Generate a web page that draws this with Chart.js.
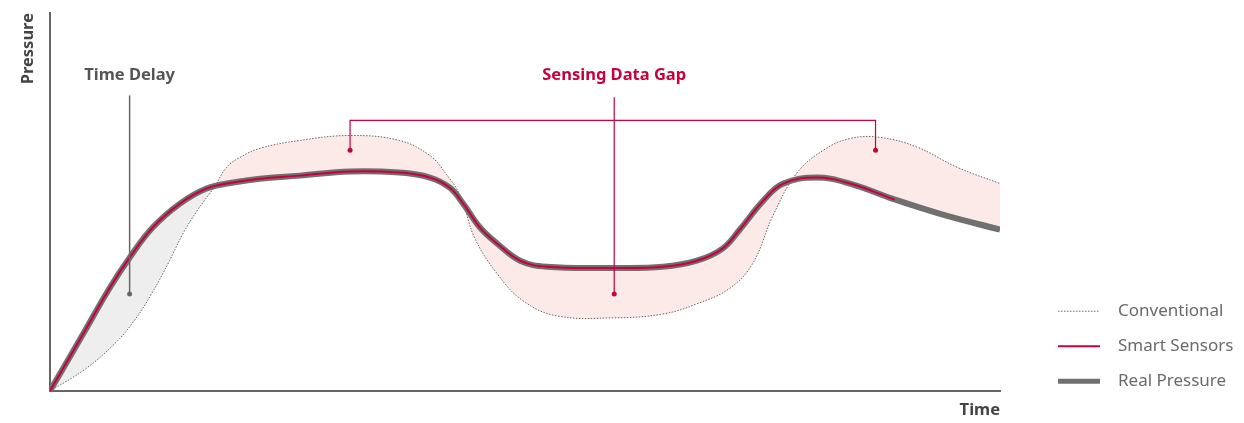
<!DOCTYPE html>
<html>
<head>
<meta charset="utf-8">
<script src="https://cdn.jsdelivr.net/npm/chart.js@4/dist/chart.umd.min.js"></script>
<style>
  html, body { margin: 0; padding: 0; background: #fff; }
</style>
</head>
<body>
<canvas id="myChart" width="1244" height="423"></canvas>
<script>
// real pressure (smart sensors follow it until ~89)
const realTime = [0, 3.5, 6.3, 8.4, 10.8, 13.7, 16.5, 19.3, 22.1, 26.3, 31.6, 36.8, 40.0, 42.1, 43.5, 45.3, 47.1, 49.5, 52.3, 59.3, 64.5, 68.1, 70.8, 72.6, 75.1, 77.2, 80.7, 84.2, 88.9, 93.7, 100];
const realPressure = [0, 15.1, 27.3, 35.3, 43.2, 49.6, 53.6, 55.2, 56.2, 57.0, 58.1, 57.8, 56.5, 53.8, 49.6, 43.2, 39.0, 34.5, 32.9, 32.6, 32.9, 34.5, 37.7, 42.7, 50.4, 54.9, 56.5, 54.9, 50.7, 46.9, 42.7];
const smartEnd = 28; // last index of the smart sensor line

// conventional sensor, lags behind
const convTime = [0, 3.7, 6.8, 8.7, 10.7, 12.6, 14.0, 15.5, 17.4, 18.6, 20.0, 22.1, 26.3, 31.6, 36.8, 40.0, 41.6, 43.2, 44.7, 47.1, 49.8, 53.4, 59.3, 64.5, 68.1, 71.6, 74.0, 76.1, 78.6, 81.4, 84.2, 87.4, 91.3, 95.5, 100];
const convPressure = [0, 5.8, 12.5, 18.0, 25.7, 34.5, 41.6, 47.7, 54.2, 59.2, 61.8, 64.2, 66.3, 67.6, 66.3, 62.3, 57.8, 51.7, 40.6, 31.0, 23.9, 19.9, 19.4, 20.4, 23.1, 27.3, 33.9, 46.4, 57.6, 63.7, 66.8, 67.1, 64.5, 59.2, 54.9];
const delayEnd = 8; // where conventional crosses the real curve

const legendLabels = ['Conventional', 'Smart Sensors', 'Real Pressure'];

const FONT = "'Noto Sans', 'Open Sans', sans-serif";
const RED = '#c8003c';

const toPoints = (xs, ys) => xs.map((x, i) => ({ x: x, y: ys[i] }));

const realPoints = toPoints(realTime, realPressure);
const smartPoints = realPoints.slice(0, smartEnd + 1);
const convPoints = toPoints(convTime, convPressure);

const overlay = {
  id: 'overlay',
  afterDatasetsDraw(chart) {
    const { ctx, chartArea, scales: { x, y } } = chart;
    ctx.save();

    // Time Delay
    const tx = x.getPixelForValue(8.4);
    ctx.strokeStyle = '#666';
    ctx.fillStyle = '#666';
    ctx.lineWidth = 1.5;
    ctx.beginPath();
    ctx.moveTo(tx, y.getPixelForValue(78.2));
    ctx.lineTo(tx, y.getPixelForValue(25.7));
    ctx.stroke();
    ctx.beginPath();
    ctx.arc(tx, y.getPixelForValue(25.7), 2.5, 0, Math.PI * 2);
    ctx.fill();
    ctx.font = 'bold 16.5px ' + FONT;
    ctx.textAlign = 'center';
    ctx.textBaseline = 'middle';
    ctx.fillStyle = '#555';
    ctx.fillText('Time Delay', tx, y.getPixelForValue(83.5));

    // Sensing Data Gap
    const gx = x.getPixelForValue(59.4);
    const bl = x.getPixelForValue(31.6);
    const br = x.getPixelForValue(86.9);
    const by = y.getPixelForValue(71.6);
    const dy = y.getPixelForValue(63.7);
    ctx.strokeStyle = RED;
    ctx.fillStyle = RED;
    ctx.lineWidth = 1.2;
    ctx.beginPath();
    ctx.moveTo(bl, dy);
    ctx.lineTo(bl, by);
    ctx.lineTo(br, by);
    ctx.lineTo(br, dy);
    ctx.moveTo(gx, y.getPixelForValue(77.7));
    ctx.lineTo(gx, y.getPixelForValue(25.7));
    ctx.stroke();
    [[bl, dy], [br, dy], [gx, y.getPixelForValue(25.7)]].forEach(p => {
      ctx.beginPath();
      ctx.arc(p[0], p[1], 2.5, 0, Math.PI * 2);
      ctx.fill();
    });
    ctx.fillText('Sensing Data Gap', gx, y.getPixelForValue(83.5));

    // legend
    const lx = chartArea.right + 58;
    const rows = [chartArea.bottom - 80, chartArea.bottom - 45, chartArea.bottom - 10];
    const styles = [
      { color: '#666', width: 1, dash: [1.5, 1.5] },
      { color: RED, width: 2, dash: [] },
      { color: '#707070', width: 5, dash: [] }
    ];
    ctx.font = '17px ' + FONT;
    ctx.textAlign = 'left';
    legendLabels.forEach((label, i) => {
      const s = styles[i];
      ctx.strokeStyle = s.color;
      ctx.lineWidth = s.width;
      ctx.setLineDash(s.dash);
      ctx.beginPath();
      ctx.moveTo(lx, rows[i]);
      ctx.lineTo(lx + 42, rows[i]);
      ctx.stroke();
      ctx.setLineDash([]);
      ctx.fillStyle = '#6a6a6a';
      ctx.fillText(label, lx + 60, rows[i]);
    });
    ctx.restore();
  }
};

new Chart(document.getElementById('myChart').getContext('2d'), {
  type: 'line',
  data: {
    datasets: [
      {
        label: legendLabels[1],
        data: smartPoints,
        borderColor: RED,
        borderWidth: 2,
        fill: false
      },
      {
        label: legendLabels[2],
        data: realPoints,
        borderColor: '#707070',
        borderWidth: 6,
        fill: false
      },
      {
        label: legendLabels[0],
        data: convPoints.slice(0, delayEnd + 1),
        borderColor: '#666',
        borderWidth: 1,
        borderDash: [1.5, 1.5],
        backgroundColor: '#eeeeee',
        fill: { target: 1 }
      },
      {
        label: legendLabels[0],
        data: convPoints.slice(delayEnd),
        borderColor: '#666',
        borderWidth: 1,
        borderDash: [1.5, 1.5],
        backgroundColor: '#fbeae8',
        fill: { target: 1 }
      }
    ]
  },
  options: {
    responsive: false,
    animation: false,
    layout: { padding: { left: 10, top: 13, right: 244, bottom: 3 } },
    elements: {
      point: { radius: 0 },
      line: { tension: 0.4 }
    },
    plugins: {
      legend: { display: false },
      tooltip: { enabled: false }
    },
    scales: {
      x: {
        type: 'linear',
        min: 0,
        max: 100,
        grid: { display: false, drawTicks: false },
        ticks: { display: false },
        border: { display: true, color: '#666', width: 2 },
        title: {
          display: true,
          text: 'Time',
          align: 'end',
          color: '#444',
          font: { family: FONT, size: 16.5, weight: 'bold' },
          padding: { top: 9, bottom: 0 }
        }
      },
      y: {
        min: 0,
        max: 100,
        grid: { display: false, drawTicks: false },
        ticks: { display: false },
        border: { display: true, color: '#666', width: 2 },
        title: {
          display: true,
          text: 'Pressure',
          align: 'end',
          color: '#444',
          font: { family: FONT, size: 16.5, weight: 'bold' },
          padding: { top: 8, bottom: 12 }
        }
      }
    }
  },
  plugins: [overlay]
});
</script>
</body>
</html>
